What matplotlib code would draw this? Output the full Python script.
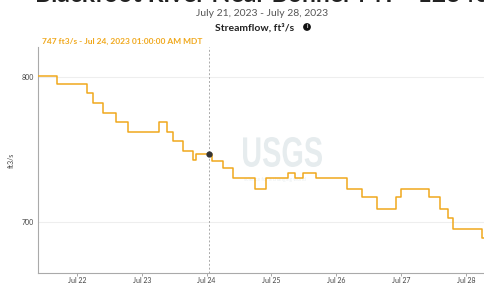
import matplotlib
matplotlib.use("Agg")
import matplotlib.pyplot as plt
import pandas as pd
from matplotlib.textpath import TextPath
from matplotlib.patches import PathPatch
from matplotlib.font_manager import FontProperties
from matplotlib.transforms import Affine2D

plt.rcParams['font.family'] = ['Lato', 'DejaVu Sans']

# streamflow readings (ft3/s), step changes
times = ['2023-07-21 09:30', '2023-07-21 16:30', '2023-07-22 03:45', '2023-07-22 06:00',
         '2023-07-22 09:30', '2023-07-22 14:30', '2023-07-22 19:00', '2023-07-23 06:30',
         '2023-07-23 09:15', '2023-07-23 11:30', '2023-07-23 15:15', '2023-07-23 19:00',
         '2023-07-23 20:00', '2023-07-24 02:00', '2023-07-24 06:00', '2023-07-24 09:45',
         '2023-07-24 18:00', '2023-07-24 22:00', '2023-07-25 06:00', '2023-07-25 08:45',
         '2023-07-25 11:45', '2023-07-25 16:30', '2023-07-26 04:00', '2023-07-26 09:30',
         '2023-07-26 15:00', '2023-07-26 22:00', '2023-07-27 00:00', '2023-07-27 10:15',
         '2023-07-27 14:30', '2023-07-27 17:15', '2023-07-27 19:15', '2023-07-28 06:00',
         '2023-07-28 06:45']
flow = [801, 795, 789, 782, 775, 769, 762, 769, 762, 756, 749, 743, 747, 742, 737, 730,
        723, 730, 734, 730, 734, 730, 723, 717, 709, 717, 723, 717, 709, 703, 695, 689, 689]

sel_time = '2023-07-24 01:00'
sel_flow = 747
xticks = ['2023-07-22', '2023-07-23', '2023-07-24', '2023-07-25', '2023-07-26',
          '2023-07-27', '2023-07-28']
yticks = [700, 800]

t = pd.to_datetime(times)
orange = '#f0a81c'

fig = plt.figure(figsize=(4.84, 2.84), dpi=100)
ax = fig.add_axes([38 / 484, 1 - 273 / 284, 1 - 38 / 484, (273 - 47) / 284])

ax.plot(t, flow, drawstyle='steps-post', color=orange, lw=1.1, zorder=3)
st = pd.Timestamp(sel_time)
ax.axvline(st, color='#aaaaaa', lw=0.7, ls=(0, (2, 2)), zorder=2)
ax.plot([st], [sel_flow], 'o', color='#333333', ms=3.5, zorder=4)

ax.set_xlim(pd.Timestamp('2023-07-21 09:30'), pd.Timestamp('2023-07-28 06:45'))
ax.set_ylim(664.8, 820.7)
ax.set_yticks(yticks)
ax.set_xticks(pd.to_datetime(xticks))
ax.set_xticklabels([pd.Timestamp(x).strftime('%b ') + str(pd.Timestamp(x).day) for x in xticks])
ax.grid(axis='y', color='#eeeeee', lw=0.8)
ax.set_axisbelow(True)
ax.tick_params(axis='y', length=0, labelsize=5, colors='#444444', pad=3)
ax.tick_params(axis='x', length=2, width=0.6, labelsize=5, colors='#999999',
               labelcolor='#444444', pad=1)
for s in ['top', 'right']:
    ax.spines[s].set_visible(False)
for s in ['left', 'bottom']:
    ax.spines[s].set_color('#aaaaaa')
    ax.spines[s].set_linewidth(0.8)
ax.set_ylabel('ft3/s', fontsize=5, color='#444444', labelpad=5)

# USGS watermark, squeezed into its box (pixels: x 243-322, y 117-147 from bottom)
tp = TextPath((0, 0), 'USGS', size=40,
              prop=FontProperties(family='Liberation Sans', weight='bold'))
bb = tp.get_extents()
sx = 79 / bb.width
sy = 30 / bb.height
wm = PathPatch(tp, transform=Affine2D().translate(-bb.x0, -bb.y0).scale(sx, sy).translate(243, 117),
               fc='#e6ecee', ec='none', zorder=1)
fig.patches.append(wm)
ax.text(0.462, 0.405, 'science for a changing world', transform=ax.transAxes,
        fontsize=3.5, color='#e9eef0', va='baseline', ha='left', zorder=1)

# header texts (title is cut off by the top edge, as in the screenshot)
fig.text(35 / 484, 1 - 2.5 / 284, 'Blackfoot River Near Bonner MT - 12340000',
         fontsize=17.8, weight='bold', color='#222222', va='baseline', ha='left')
fig.text(262 / 484, 1 - 14 / 284, 'July 21, 2023 - July 28, 2023', fontsize=7.5,
         color='#555555', ha='center', va='center')
fig.text(255 / 484, 1 - 28 / 284, 'Streamflow, ft\u00b3/s', fontsize=7.5, weight='bold',
         color='#222222', ha='center', va='center')
fig.text(307 / 484, 1 - 27 / 284, 'i', fontsize=4, weight='bold', color='white',
         ha='center', va='center',
         bbox=dict(boxstyle='circle,pad=0.25', fc='#111111', ec='none'))
fig.text(42 / 484, 1 - 41.5 / 284, '747 ft3/s - Jul 24, 2023 01:00:00 AM MDT',
         fontsize=6, weight='bold', color=orange, ha='left', va='center')

fig.savefig('out.png', dpi=100)
